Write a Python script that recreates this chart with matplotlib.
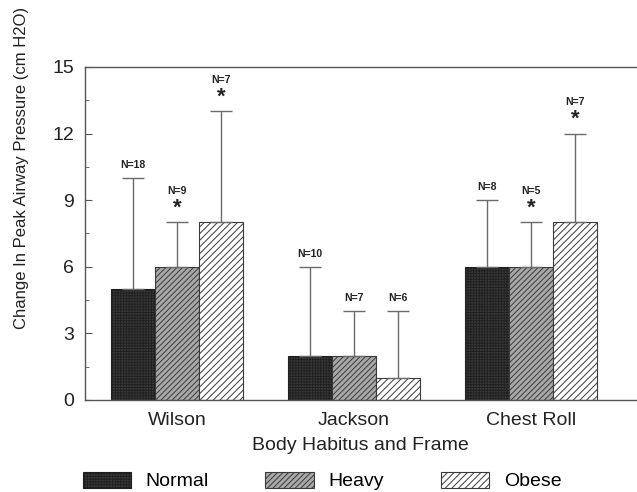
import matplotlib.pyplot as plt
from matplotlib.patches import Patch
import numpy as np

plt.rcParams['font.family'] = ['Liberation Sans', 'DejaVu Sans']
plt.rcParams['hatch.linewidth'] = 0.7

groups = ['Wilson', 'Jackson', 'Chest Roll']
series = ['Normal', 'Heavy', 'Obese']
means = {
    'Normal': [5, 2, 6],
    'Heavy': [6, 2, 6],
    'Obese': [8, 1, 8],
}
upper = {
    'Normal': [10, 6, 9],
    'Heavy': [8, 4, 8],
    'Obese': [13, 4, 12],
}
n_labels = {
    'Normal': ['N=18', 'N=10', 'N=8'],
    'Heavy': ['N=9', 'N=7', 'N=5'],
    'Obese': ['N=7', 'N=6', 'N=7'],
}
stars = {
    'Normal': [False, False, False],
    'Heavy': [True, False, True],
    'Obese': [True, False, True],
}

styles = {
    'Normal': dict(facecolor='#3a3a3a', hatch='++++++', edgecolor='#202020'),
    'Heavy': dict(facecolor='#a8a8a8', hatch='//////', edgecolor='#3a3a3a'),
    'Obese': dict(facecolor='white', hatch='/////', edgecolor='#3a3a3a'),
}

fig = plt.figure(figsize=(6.37, 4.92), dpi=100)
ax = fig.add_axes([0.1334, 0.187, 0.8666, 0.677])

x = np.arange(len(groups))
w = 0.249
for i, s in enumerate(series):
    xs = x + (i - 1) * w
    ax.bar(xs, means[s], width=w, linewidth=0.8, **styles[s])
    err = np.array(upper[s]) - np.array(means[s])
    ax.errorbar(xs, means[s], yerr=[np.zeros(3), err], fmt='none',
                ecolor='#6a6a6a', elinewidth=1.0, capsize=8, capthick=1.0)
    for j in range(3):
        if stars[s][j]:
            ax.annotate('*', (xs[j], upper[s][j]), xytext=(0, 6.0), textcoords='offset points',
                        ha='center', va='baseline', fontsize=16, fontweight='bold', color='#222222')
            ax.annotate(n_labels[s][j], (xs[j], upper[s][j]), xytext=(0, 22.5), textcoords='offset points',
                        ha='center', va='center', fontsize=7.5, fontweight='bold', color='#222222')
        else:
            ax.annotate(n_labels[s][j], (xs[j], upper[s][j]), xytext=(0, 9.5), textcoords='offset points',
                        ha='center', va='center', fontsize=7.5, fontweight='bold', color='#222222')

ax.set_xlim(-0.52, 2.6)
ax.set_ylim(0, 15)
ax.set_yticks([0, 3, 6, 9, 12, 15])
ax.set_yticks(np.arange(1.5, 15, 3), minor=True)
ax.tick_params(axis='y', direction='in', length=5, labelsize=14, pad=8, color='#555555',
               labelcolor='#222222')
ax.tick_params(axis='y', which='minor', direction='in', length=3, color='#555555')
ax.set_xticks(x)
ax.set_xticklabels(groups, fontsize=14, color='#222222')
ax.tick_params(axis='x', length=0, pad=9)
ax.spines['right'].set_visible(False)
for sp in ['left', 'top', 'bottom']:
    ax.spines[sp].set_color('#555555')
    ax.spines[sp].set_linewidth(1.0)

fig.text(360 / 637, 1 - 445 / 492, 'Body Habitus and Frame', ha='center', va='center',
         fontsize=14, color='#222222')
fig.text(22 / 637, 1 - 168 / 492, 'Change In Peak Airway Pressure (cm H2O)', rotation=90,
         ha='center', va='center', fontsize=12, color='#222222')

handles = [Patch(linewidth=0.8, **styles[s]) for s in series]
fig.legend(handles, series, loc='center', bbox_to_anchor=(322 / 637, 1 - 481 / 492), ncol=3,
           frameon=False, fontsize=14, handlelength=2.5, handleheight=0.9, columnspacing=2.9,
           handletextpad=0.75, borderpad=0, borderaxespad=0)

plt.savefig('out.png', dpi=100)
